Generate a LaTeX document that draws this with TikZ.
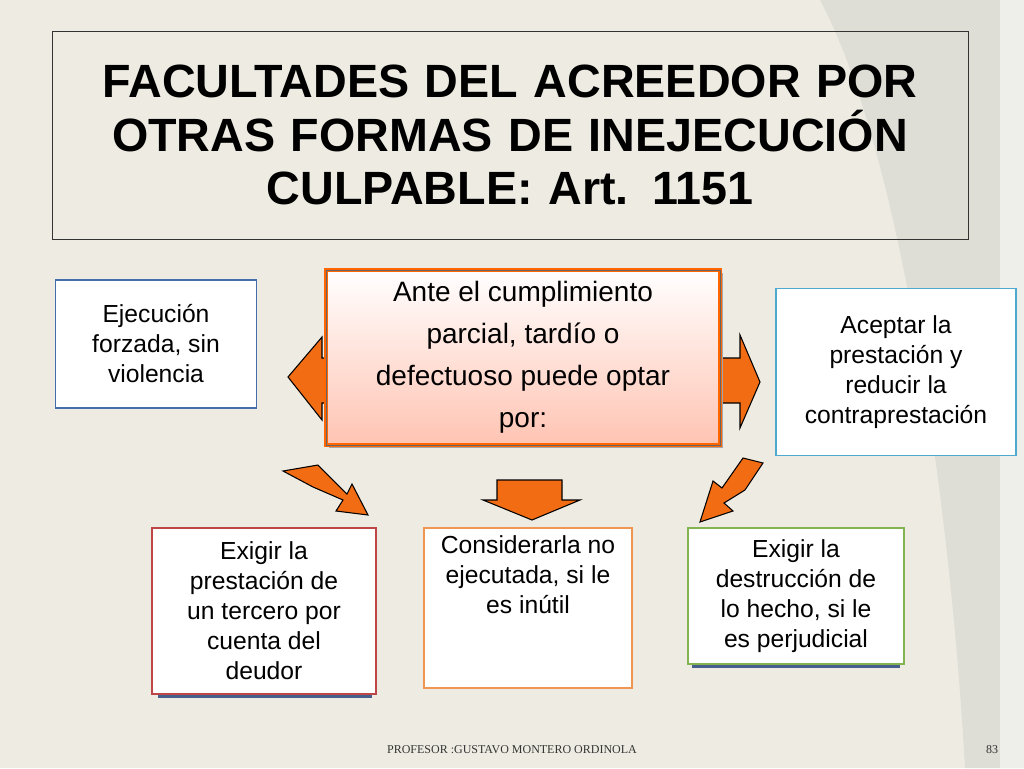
\documentclass[tikz,border=0pt]{standalone}
\usepackage{fontspec}
\setmainfont{Liberation Sans}
\newfontfamily\serifft{Liberation Serif}
\begin{document}
\begin{tikzpicture}[x=0.75pt,y=-0.75pt,
  box/.style={draw,line width=1.3pt,fill=white,align=center,inner sep=0pt,font=\fontsize{18.5}{22.5}\selectfont},
  barrow/.style={fill=arrowor,draw=black,line width=0.8pt,line join=miter}]
\definecolor{bg}{RGB}{238,236,226}
\definecolor{bgd}{RGB}{222,221,214}
\definecolor{arrowor}{RGB}{242,108,20}
\definecolor{cblue}{RGB}{70,110,170}
\definecolor{cteal}{RGB}{75,170,205}
\definecolor{cred}{RGB}{190,70,70}
\definecolor{corange}{RGB}{240,150,80}
\definecolor{cgreen}{RGB}{130,180,80}
\definecolor{cshad}{RGB}{70,95,140}
\useasboundingbox (0,0) rectangle (1024,768);
\fill[bg] (0,0) rectangle (1024,768);
\fill[bgd] (820,0) .. controls (900,150) and (950,500) .. (965,768) -- (1024,768) -- (1024,0) -- cycle;
\fill[white,opacity=0.5] (1000,0) rectangle (1024,768);
% title
\node[draw=black!80,line width=0.6pt,inner sep=0pt,
  text width=900*0.75pt,align=center,minimum width=916*0.75pt,minimum height=208*0.75pt,
  font=\bfseries\fontsize{35}{40}\selectfont] (title) at (510,135)
  {FACULTADES DEL ACREEDOR POR\\OTRAS FORMAS DE INEJECUCIÓN\\CULPABLE: Art. 1151};
% arrows
\draw[barrow] (330,358) -- (322,358) -- (322,337) -- (288,377) -- (322,420) -- (322,403) -- (330,403) -- cycle;
\draw[barrow] (718,358) -- (740,358) -- (740,335) -- (760,382) -- (740,428) -- (740,403) -- (718,403) -- cycle;
\draw[barrow] (497,480) -- (562,480) -- (562,500) -- (580,500) -- (532,520) -- (483,500) -- (497,500) -- cycle;
\draw[barrow] (283,471) -- (318,465) -- (347,494) -- (352,484) -- (368,515) -- (336,511) -- (343,500) -- (313,487) -- cycle;
\draw[barrow] (763,463) -- (743,458) -- (722,488) -- (713,481) -- (700,522) -- (733,511) -- (724,503) -- (745,490) -- cycle;
% center
\fill[black!35] (329,273) rectangle (723,448);
\shade[top color=white,bottom color=orange!45!red!30!white]
  (326,270) rectangle (720,445);
\draw[orange!80!red,line width=2.5pt] (326,270) rectangle (720,445);
\draw[black!60,line width=0.6pt] (326,270) rectangle (720,445);
\node[align=center,font=\fontsize{21}{31.5}\selectfont] (c) at (523,357)
  {Ante el cumplimiento\\parcial, tardío o\\defectuoso puede optar\\por:};
% side boxes
\node[box,draw=cblue,minimum width=201*0.75pt,minimum height=128*0.75pt] (l) at (156,344)
  {Ejecución\\forzada, sin\\violencia};
\node[box,draw=cteal,minimum width=240*0.75pt,minimum height=167*0.75pt] (r) at (896,372)
  {Aceptar la\\prestación y\\reducir la\\contraprestación};
\fill[cshad] (158,690) rectangle (372,698);
\node[box,draw=cred,minimum width=224*0.75pt,minimum height=166*0.75pt] (bl) at (264,611)
  {Exigir la\\prestación de\\un tercero por\\cuenta del\\deudor};
\node[box,draw=corange,minimum width=208*0.75pt,minimum height=160*0.75pt] (bc) at (528,608)
  {Considerarla no\\ejecutada, si le\\es inútil\\[1.5em]};
\fill[cshad] (692,660) rectangle (900,668);
\node[box,draw=cgreen,minimum width=216*0.75pt,minimum height=136*0.75pt] (br) at (796,596)
  {Exigir la\\destrucción de\\lo hecho, si le\\es perjudicial};
% footer
\node[font=\serifft\fontsize{9}{10}\selectfont,text=black!80] (f) at (512,750) {PROFESOR :GUSTAVO MONTERO ORDINOLA};
\node[font=\serifft\fontsize{9}{10}\selectfont,text=black!80] (p) at (992,750) {83};
\end{tikzpicture}
\end{document}
